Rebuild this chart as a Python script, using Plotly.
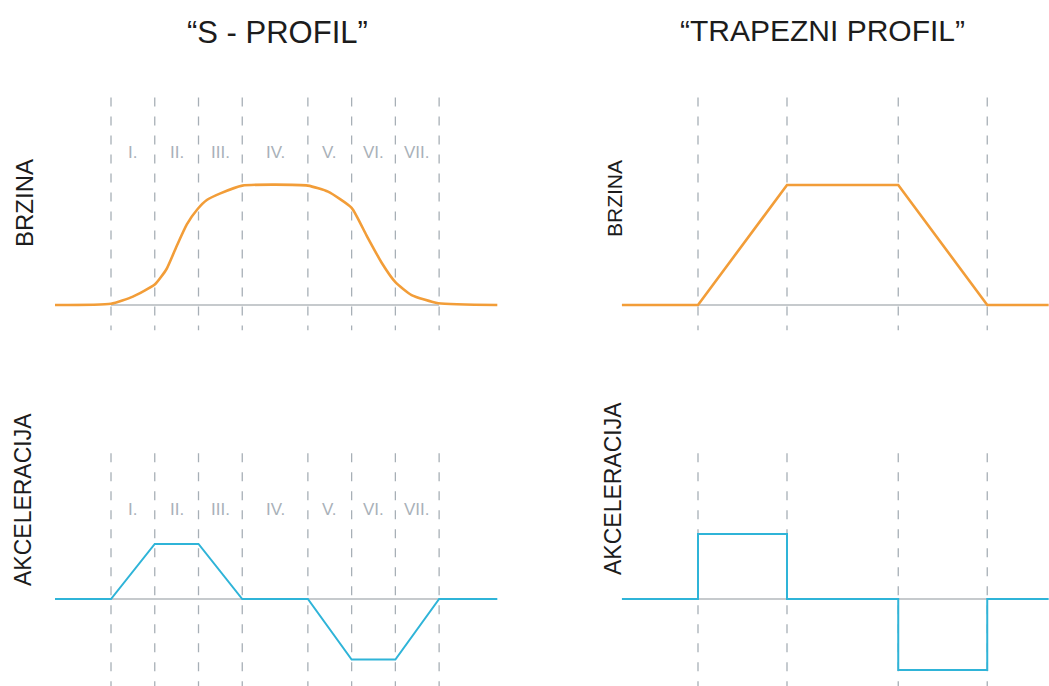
import plotly.graph_objects as go

W, H = 1049, 686

# ---------------- data ----------------
# S-profile: phase boundaries (time units) and labels
s_bounds = [0, 1, 2, 3, 4.5, 5.5, 6.5, 7.5]
s_phase_labels = ["I.", "II.", "III.", "IV.", "V.", "VI.", "VII."]
s_phase_mid = [0.5, 1.5, 2.5, 3.75, 5.0, 6.0, 7.0]

# S-profile velocity
s_vel_t = [-1.28, 0.0, 0.5, 1.0, 1.27, 1.5, 1.73, 1.98, 2.19, 2.5, 3.0, 4.5,
           4.96, 5.5, 5.84, 6.19, 6.5, 6.87, 7.48, 8.83]
s_vel_v = [0.0, 0.01, 0.07, 0.17, 0.30, 0.49, 0.67, 0.80, 0.875, 0.93, 0.995, 0.995,
           0.945, 0.81, 0.58, 0.35, 0.19, 0.083, 0.014, 0.0]

# S-profile acceleration
s_acc_t = [-1.28, 0, 1, 2, 3, 4.5, 5.5, 6.5, 7.5, 8.83]
s_acc_a = [0, 0, 1.0, 1.0, 0, 0, -1.1, -1.1, 0, 0]

# Trapezoid profile
t_bounds = [0, 2, 4.5, 6.5]
t_vel_t = [-1.71, 0, 2, 4.5, 6.5, 8.2]
t_vel_v = [0, 0, 1, 1, 0, 0]
t_acc_t = [-1.71, 0, 2, 4.5, 6.5, 8.2]
t_acc_a = [0, 1.18, 0, -1.29, 0, 0]

titles = ["\u201cS - PROFIL\u201d", "\u201cTRAPEZNI PROFIL\u201d"]
ylabels = ["BRZINA", "AKCELERACIJA"]

# dashed guide extents (data units)
vel_dash = (1.73, -0.21)
acc_dash = (2.65, -1.62)

# ---------------- styles ----------------
ORANGE = "#f29d38"
BLUE = "#2fb4d8"
DASH_C = "#a7afb6"
BASE_C = "#c6cacd"
ROMAN_C = "#a9b1b9"
FONT = "Liberation Sans, Arial, sans-serif"


def xdom(a, b, r0, r1):
    return [max(0, (a + b * r0) / W), min(1, (a + b * r1) / W)]


def ydom(a, b, r0, r1):
    return [max(0, 1 - (a - b * r0) / H), min(1, 1 - (a - b * r1) / H)]


S_XR = [-1.5, 9.0]
T_XR = [-2.2, 7.88]
VEL_YR = [-0.3, 1.85]
ACC_YR = [-1.58, 2.75]

fig = go.Figure()

panels = [
    ("x", "y", s_bounds, "vel", s_vel_t, s_vel_v, ORANGE, "spline"),
    ("x2", "y2", s_bounds, "acc", s_acc_t, s_acc_a, BLUE, "linear"),
    ("x3", "y3", t_bounds, "vel", t_vel_t, t_vel_v, ORANGE, "linear"),
    ("x4", "y4", t_bounds, "acc", t_acc_t, t_acc_a, BLUE, "hv"),
]

for xa, ya, bounds, kind, xs, ys, col, shape in panels:
    hi, lo = vel_dash if kind == "vel" else acc_dash
    dx, dy = [], []
    for b in bounds:
        dx += [b, b, None]
        dy += [hi, lo, None]
    fig.add_trace(go.Scatter(x=dx, y=dy, mode="lines", xaxis=xa, yaxis=ya,
                             line=dict(color=DASH_C, width=1.3, dash="9px,10px"),
                             hoverinfo="skip", showlegend=False))
    fig.add_trace(go.Scatter(x=[bounds[0], bounds[-1]], y=[0, 0], mode="lines",
                             xaxis=xa, yaxis=ya, line=dict(color=BASE_C, width=2),
                             hoverinfo="skip", showlegend=False))
    lw = 2.6 if kind == "vel" else 2.0
    ls = dict(color=col, width=lw, shape=shape)
    if shape == "spline":
        ls["smoothing"] = 0.5
    fig.add_trace(go.Scatter(x=xs, y=ys, mode="lines", xaxis=xa, yaxis=ya,
                             line=ls, showlegend=False))

axis_common = dict(visible=False, showgrid=False, zeroline=False, fixedrange=True)
layout = dict(
    width=W, height=H, margin=dict(l=0, r=0, t=0, b=0),
    paper_bgcolor="white", plot_bgcolor="rgba(0,0,0,0)",
    showlegend=False,
    xaxis=dict(domain=xdom(111, 43.75, *S_XR), range=S_XR, anchor="y", **axis_common),
    yaxis=dict(domain=ydom(305, 120, *VEL_YR), range=VEL_YR, anchor="x", **axis_common),
    xaxis2=dict(domain=xdom(111, 43.75, *S_XR), range=S_XR, anchor="y2", **axis_common),
    yaxis2=dict(domain=ydom(599, 55, *ACC_YR), range=ACC_YR, anchor="x2", **axis_common),
    xaxis3=dict(domain=xdom(698, 44.5, *T_XR), range=T_XR, anchor="y3", **axis_common),
    yaxis3=dict(domain=ydom(305, 120, *VEL_YR), range=VEL_YR, anchor="x3", **axis_common),
    xaxis4=dict(domain=xdom(698, 44.5, *T_XR), range=T_XR, anchor="y4", **axis_common),
    yaxis4=dict(domain=ydom(599, 55, *ACC_YR), range=ACC_YR, anchor="x4", **axis_common),
)
fig.update_layout(**layout)

ann = []
# titles
ann.append(dict(text=titles[0], x=277 / W, y=1 - 32 / H, xref="paper", yref="paper",
                showarrow=False, font=dict(family=FONT, size=31, color="#1c1c1c"),
                xanchor="center", yanchor="middle"))
ann.append(dict(text=titles[1], x=822 / W, y=1 - 30 / H, xref="paper", yref="paper",
                showarrow=False, font=dict(family=FONT, size=30, color="#1c1c1c"),
                xanchor="center", yanchor="middle"))
# y labels
for txt, px, py, sz in [(ylabels[0], 24, 203, 24), (ylabels[1], 23, 500, 23),
                        (ylabels[0], 614, 199, 21), (ylabels[1], 613, 489, 23)]:
    ann.append(dict(text=txt, x=px / W, y=1 - py / H, xref="paper", yref="paper",
                    showarrow=False, textangle=-90,
                    font=dict(family=FONT, size=sz, color="#1c1c1c"),
                    xanchor="center", yanchor="middle"))
# roman numerals
for xa, ya, yv in [("x", "y", 1.275), ("x2", "y2", 1.62)]:
    for lab, m in zip(s_phase_labels, s_phase_mid):
        ann.append(dict(text=lab, x=m, y=yv, xref=xa, yref=ya, showarrow=False,
                        font=dict(family=FONT, size=17, color=ROMAN_C),
                        xanchor="center", yanchor="middle"))
fig.update_layout(annotations=ann)

fig.write_html("out.html", config={"displayModeBar": False, "staticPlot": True},
               post_script="document.body.style.margin='0px';document.body.style.overflow='hidden';")
